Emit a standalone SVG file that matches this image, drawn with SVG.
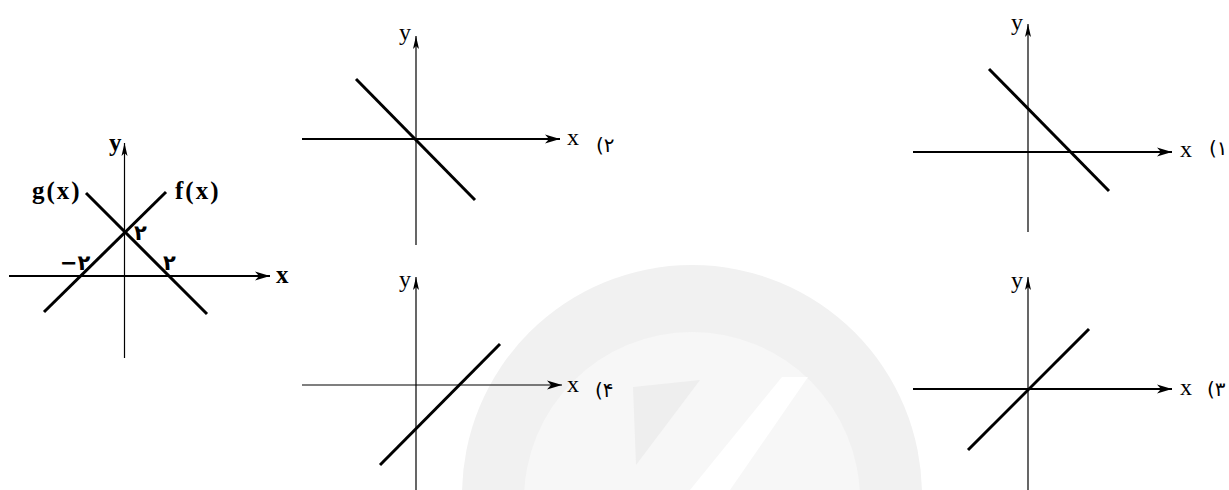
<svg xmlns="http://www.w3.org/2000/svg" width="1229" height="490" viewBox="0 0 1229 490">
<style>
.ax{stroke:#000;stroke-width:1.2;fill:none}
.axb{stroke:#000;stroke-width:2;fill:none}
.fn{stroke:#000;stroke-width:3;fill:none;stroke-linecap:butt}
.lb{font-family:"Liberation Serif","Times New Roman",serif;font-size:24px;fill:#000}
.lbb{font-family:"Liberation Serif","Times New Roman",serif;font-size:25px;font-weight:bold;fill:#000}
.fa{font-family:"DejaVu Sans",sans-serif;font-size:21px;font-weight:bold;fill:#000}
.fa2{font-family:"DejaVu Sans",sans-serif;font-size:20px;fill:#000}
</style>
<defs>
<marker id="ax" markerUnits="userSpaceOnUse" markerWidth="16" markerHeight="10" refX="15" refY="5" orient="auto">
<path d="M0,0.5 L15,5 L0,9.5 L4,5 Z" fill="#000"/>
</marker>
<marker id="ay" markerUnits="userSpaceOnUse" markerWidth="14" markerHeight="8" refX="13" refY="4" orient="auto">
<path d="M0,1 L13,4 L0,7 L3,4 Z" fill="#000"/>
</marker>
</defs>
<rect width="1229" height="490" fill="#fff"/>
<g id="watermark">
<circle cx="692" cy="495" r="230" fill="#f1f1f1"/>
<circle cx="692" cy="500" r="168" fill="#f7f7f7"/>
<polygon points="782,377 808,377 730,490 690,490" fill="#fff"/>
<polygon points="633,387 700,380 636,465" fill="#eeeeee"/>
</g>
<g id="given">
<line class="ax" x1="124.5" y1="358" x2="124.5" y2="143" marker-end="url(#ay)"/>
<line class="axb" x1="9" y1="276" x2="270" y2="276" marker-end="url(#ax)"/>
<line class="fn" x1="86" y1="193" x2="207" y2="314"/>
<line class="fn" x1="44" y1="312" x2="166" y2="192"/>
<text class="lbb" x="109" y="151">y</text>
<text class="lbb" x="276" y="283">x</text>
<text class="lbb" x="32" y="199" letter-spacing="2">g(x)</text>
<text class="lbb" x="175" y="199" letter-spacing="2">f(x)</text>
<text class="fa" x="134" y="240">۲</text>
<text class="fa" x="60" y="270">−۲</text>
<text class="fa" x="163" y="270">۲</text>
</g>
<g id="option2">
<line class="ax" x1="416" y1="245" x2="416" y2="36" marker-end="url(#ay)"/>
<line class="axb" x1="302" y1="139" x2="560" y2="139" marker-end="url(#ax)"/>
<line class="fn" x1="356" y1="79" x2="475" y2="200"/>
<text class="lb" x="399" y="40">y</text>
<text class="lb" x="567" y="145">x</text>
<text class="fa2" x="596" y="152">(۲</text>
</g>
<g id="option1">
<line class="ax" x1="1028" y1="232" x2="1028" y2="24" marker-end="url(#ay)"/>
<line class="axb" x1="913" y1="152" x2="1172" y2="152" marker-end="url(#ax)"/>
<line class="fn" x1="989" y1="69" x2="1109" y2="191"/>
<text class="lb" x="1011" y="30">y</text>
<text class="lb" x="1180" y="157">x</text>
<text class="fa2" x="1209" y="155">(۱</text>
</g>
<g id="option4">
<line class="ax" x1="416" y1="490" x2="416" y2="277" marker-end="url(#ay)"/>
<line class="ax" x1="302" y1="385" x2="562" y2="385" marker-end="url(#ax)"/>
<line class="fn" x1="380" y1="465" x2="500" y2="344"/>
<text class="lb" x="399" y="287">y</text>
<text class="lb" x="567" y="392">x</text>
<text class="fa2" x="595" y="397">(۴</text>
</g>
<g id="option3">
<line class="ax" x1="1028" y1="490" x2="1028" y2="277" marker-end="url(#ay)"/>
<line class="axb" x1="913" y1="389" x2="1172" y2="389" marker-end="url(#ax)"/>
<line class="fn" x1="968" y1="450" x2="1089" y2="329"/>
<text class="lb" x="1011" y="288">y</text>
<text class="lb" x="1180" y="395">x</text>
<text class="fa2" x="1207" y="396">(۳</text>
</g>
<g id="connectors"></g>
</svg>
